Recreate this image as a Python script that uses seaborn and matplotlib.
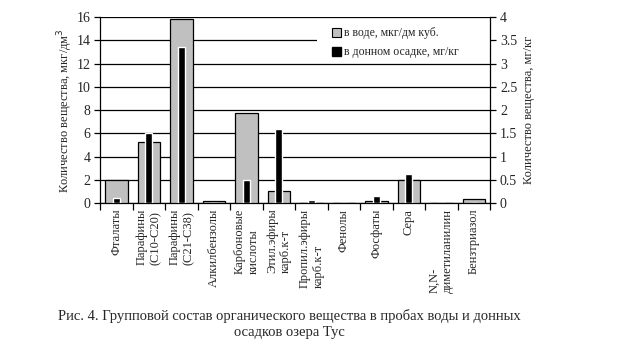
import matplotlib
matplotlib.use("Agg")
import matplotlib.pyplot as plt
import seaborn as sns
import numpy as np
from matplotlib.patches import Patch, Rectangle

categories = ["Фталаты", "Парафины\n(С10-С20)", "Парафины\n(С21-С38)", "Алкилбензолы",
              "Карбоновые\nкислоты", "Этил.эфиры\nкарб.к-т", "Пропил.эфиры\nкарб.к-т",
              "Фенолы", "Фосфаты", "Сера", "N,N-\nдиметиланилин", "Бензтриазол"]
water = [1.95, 5.25, 15.8, 0.15, 7.75, 1.05, 0.0, 0.0, 0.2, 1.95, 0.0, 0.35]
sediment = [0.1, 1.5, 3.36, 0.0, 0.5, 1.6, 0.07, 0.0, 0.15, 0.62, 0.0, 0.0]
left_ticks = [0, 2, 4, 6, 8, 10, 12, 14, 16]
right_ticks = [0, 0.5, 1, 1.5, 2, 2.5, 3, 3.5, 4]
right_labels = ["0", "0.5", "1", "1.5", "2", "2.5", "3", "3.5", "4"]

sns.set_style("white")
plt.rcParams["font.family"] = ["Liberation Serif", "DejaVu Serif"]
plt.rcParams["font.size"] = 9

fig = plt.figure(figsize=(6.26, 3.49), dpi=100)
ax = fig.add_axes([0.16, 0.418, 0.623, 0.533])

x = np.arange(len(categories))
sns.barplot(x=x, y=water, color="#c0c0c0", edgecolor="black", linewidth=0.9,
            width=0.7, saturation=1, ax=ax, zorder=3, native_scale=True)
ax.set_ylim(0, 16)
ax.set_yticks(left_ticks)
ax.set_yticklabels([str(t) for t in left_ticks], fontsize=10)
ax.yaxis.grid(True, color="black", linewidth=0.9)
ax.set_axisbelow(True)
ax.set_xlim(-0.5, len(categories) - 0.5)
ax.set_xticks(np.arange(len(categories) + 1) - 0.5)
ax.set_xticklabels([])
ax.set_xticks(x, minor=True)
ax.set_xticklabels(categories, minor=True, rotation=90, fontsize=9,
                   va="top", ha="center", multialignment="left")
ax.tick_params(axis="x", which="major", direction="out", length=5, width=0.9, color="black", bottom=True)
ax.tick_params(axis="x", which="minor", length=0, pad=4)
ax.tick_params(axis="y", direction="out", length=4, width=0.9, color="black", left=True, pad=3)
ax.set_ylabel("Количество вещества, мкг/дм$^3$", fontsize=9, labelpad=1)
for s in ["left", "bottom"]:
    ax.spines[s].set_color("black")
    ax.spines[s].set_linewidth(0.9)
ax.spines["top"].set_visible(False)
ax.spines["right"].set_visible(False)

# white legend background covering the grid
ax.add_patch(Rectangle((0.556, 0.78), 0.444, 0.21, transform=ax.transAxes,
                       facecolor="white", edgecolor="none", zorder=2))

ax2 = ax.twinx()
sns.barplot(x=x, y=sediment, color="black", width=0.22, saturation=1, ax=ax2,
            zorder=4, native_scale=True)
ax2.set_xlim(-0.5, len(categories) - 0.5)
ax2.set_ylim(0, 4)
ax2.set_yticks(right_ticks)
ax2.set_yticklabels(right_labels, fontsize=10)
ax2.tick_params(axis="y", direction="out", length=4, width=0.9, color="black", right=True, pad=3)
ax2.set_ylabel("Количество вещества, мг/кг", fontsize=9, labelpad=4)
ax2.spines["right"].set_color("black")
ax2.spines["right"].set_linewidth(0.9)
for s in ["left", "top", "bottom"]:
    ax2.spines[s].set_visible(False)
ax2.set_xlabel("")
ax.set_xlabel("")

handles = [Patch(facecolor="#c0c0c0", edgecolor="black", linewidth=0.8),
           Patch(facecolor="black", edgecolor="black")]
leg = ax2.legend(handles, ["в воде, мкг/дм куб.", "в донном осадке, мг/кг"],
                 loc="upper left", bbox_to_anchor=(0.585, 0.965), frameon=False,
                 fontsize=8.5, handlelength=0.8, handleheight=0.8, handletextpad=0.2,
                 borderpad=0.3, labelspacing=0.6, borderaxespad=0.0)
leg.set_zorder(10)

fig.text(0.462, 0.095, "Рис. 4. Групповой состав органического вещества в пробах воды и донных",
         ha="center", va="center", fontsize=10.5)
fig.text(0.462, 0.046, "осадков озера Тус", ha="center", va="center", fontsize=10.5)

fig.savefig("out.png", dpi=100, facecolor="white")
